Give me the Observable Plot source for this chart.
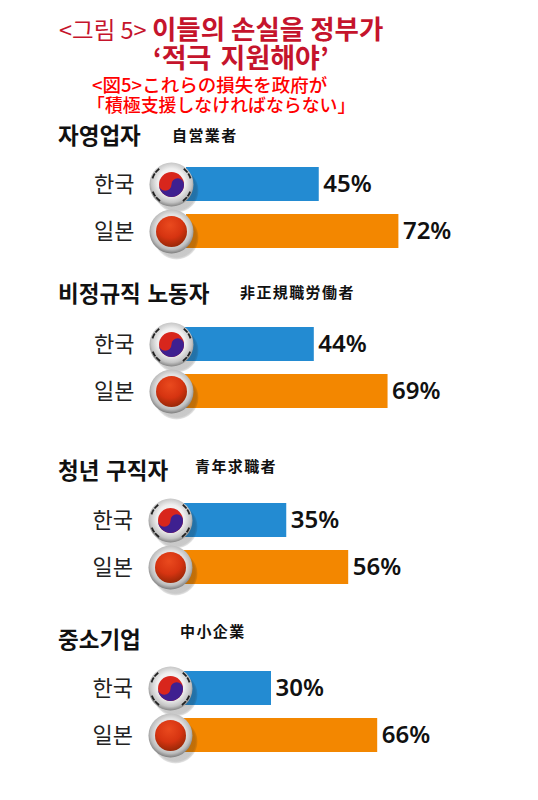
<!DOCTYPE html>
<html><head><meta charset="utf-8">
<script src="https://cdn.jsdelivr.net/npm/d3@7"></script>
<script src="https://cdn.jsdelivr.net/npm/@observablehq/plot@0.6"></script>
<style>
html,body{margin:0;padding:0;background:#fff}
#page{position:relative;width:538px;height:800px;overflow:hidden;font-family:"Noto Sans CJK KR",sans-serif}
#page svg{position:absolute;left:0;overflow:visible;background:transparent}
.t{position:absolute;white-space:nowrap;line-height:1}
</style></head><body><div id="page"></div>
<script>
const categories = ["자영업자","비정규직 노동자","청년 구직자","중소기업"];
const categoriesJa = ["自営業者","非正規職労働者","青年求職者","中小企業"];
const countries = ["한국","일본"];
const koreaValues = [45,44,35,30];
const japanValues = [72,69,56,66];

const barTops = [167,327,503,671];
const zeroX = [186,184,183,182.5];
const ballX = [171,171,170,170];
const labelRight = [134,134,132.5,132.5];
const headY = [123,281,458,627];
const headJaX = [172,240,195,180];
const headJaY = [127,284,458,623];

const page = document.getElementById("page");
function text(str,x,y,size,color,weight,font,extra){
  const d=document.createElement("div");d.className="t";d.textContent=str;
  d.style.cssText=`left:${x}px;top:${y}px;font-size:${size}px;color:${color};font-weight:${weight};font-family:"${font}",sans-serif;${extra||""}`;
  page.appendChild(d);return d;
}
const t1=text("",59,15,23.5,"#c5142c",400,"Noto Sans CJK KR");
t1.innerHTML='&lt;그림 5&gt; <span style="font-weight:700;font-size:26.5px">이들의 손실을 정부가</span>';
text("‘적극 지원해야’",153,43,27,"#c5142c",700,"Noto Sans CJK KR","word-spacing:3px");
text("<図5>これらの損失を政府が",92,75,18.5,"#f00",500,"Noto Sans CJK JP");
text("「積極支援しなければならない」",87,96,17.9,"#f00",500,"Noto Sans CJK JP");

const taegeukBlue={draw(c){const r=12.5;
  c.moveTo(-r,0);
  c.arc(-r/2,0,r/2,Math.PI,0,true);
  c.arc(r/2,0,r/2,Math.PI,0,false);
  c.arc(0,0,r,0,Math.PI,false);
  c.closePath();}};
const trigrams={draw(c){const r=20;
  [38,142,215,325].forEach(a=>{const m=a*Math.PI/180;
    [[-.3,-.03],[.03,.3]].forEach(([s,e])=>{c.moveTo(r*Math.cos(m+s),r*Math.sin(m+s));c.arc(0,0,r,m+s,m+e);});});}};

function gradients(){
  const defs=d3.create("svg:defs");
  const add=(id,cx,cy,r,stops)=>{const g=defs.append("radialGradient").attr("id",id).attr("cx",cx).attr("cy",cy).attr("r",r);
    stops.forEach(([o,col,a])=>g.append("stop").attr("offset",o).attr("stop-color",col).attr("stop-opacity",a??1));};
  add("ball",.5,.45,.56,[[0,"#fff"],[.55,"#efefef"],[.82,"#c4c4c4"],[1,"#7e7e7e"]]);
  add("ballJ",.5,.45,.56,[[0,"#f6f6f6"],[.6,"#e2e2e2"],[.82,"#bcbcbc"],[1,"#767676"]]);
  add("red",.45,.3,.75,[[0,"#ea4a1e"],[.55,"#d63411"],[1,"#8f2606"]]);
  add("shadow",.5,.5,.5,[[0,"#222",.26],[.9,"#222",.24],[1,"#222",.1]]);
  return defs.node();
}

categories.forEach((cat,i)=>{
  text(cat,58,headY[i],22.5,"#111",700,"Noto Sans CJK KR","word-spacing:1.5px");
  text(categoriesJa[i],headJaX[i],headJaY[i],15,"#111",700,"Noto Sans CJK JP","letter-spacing:1.4px");
  const rows=[{country:countries[0],value:koreaValues[i]},{country:countries[1],value:japanValues[i]}];
  const mt=25,mb=30;
  const dx=ballX[i]-zeroX[i];
  const plot=Plot.plot({
    width:538,height:mt+81+mb,marginTop:mt,marginBottom:mb,marginLeft:zeroX[i],marginRight:538-zeroX[i]-295,
    x:{domain:[0,100],axis:null},
    y:{domain:countries,paddingInner:13/47,paddingOuter:0,axis:null},
    style:{fontFamily:'"Noto Sans CJK KR",sans-serif',background:"transparent"},
    marks:[
      gradients,
      Plot.axisY({label:null,tickSize:0,tickPadding:zeroX[i]-labelRight[i],fontSize:22,fill:"#222"}),
      Plot.barX(rows,{x:"value",y:"country",fill:d=>d.country==countries[0]?"#238bd2":"#f38700"}),
      Plot.text(rows,{x:"value",y:"country",text:d=>d.value+"%",textAnchor:"start",dx:4,fontSize:24,fontWeight:600,fill:"#111",fontFamily:'"Noto Sans","Noto Sans CJK KR",sans-serif'}),
      Plot.dot(rows,{x:()=>0,y:"country",r:22,dx:dx+5,dy:6,fill:"url(#shadow)"}),
      Plot.dot(rows,{x:()=>0,y:"country",r:22,dx,fill:d=>d.country==countries[0]?"url(#ball)":"url(#ballJ)"}),
      Plot.dot(rows.slice(0,1),{x:()=>0,y:"country",r:12.5,dx,fill:"#d8261c"}),
      Plot.dot(rows.slice(0,1),{x:()=>0,y:"country",r:1,dx,symbol:taegeukBlue,fill:"#3e2090"}),
      Plot.dot(rows.slice(0,1),{x:()=>0,y:"country",r:1,dx,symbol:trigrams,fill:"none",stroke:"#222",strokeWidth:1.8}),
      Plot.dot(rows.slice(1),{x:()=>0,y:"country",r:15.5,dx,fill:"url(#red)"})
    ]
  });
  plot.style.top=(barTops[i]-mt)+"px";
  page.appendChild(plot);
});
</script></body></html>
